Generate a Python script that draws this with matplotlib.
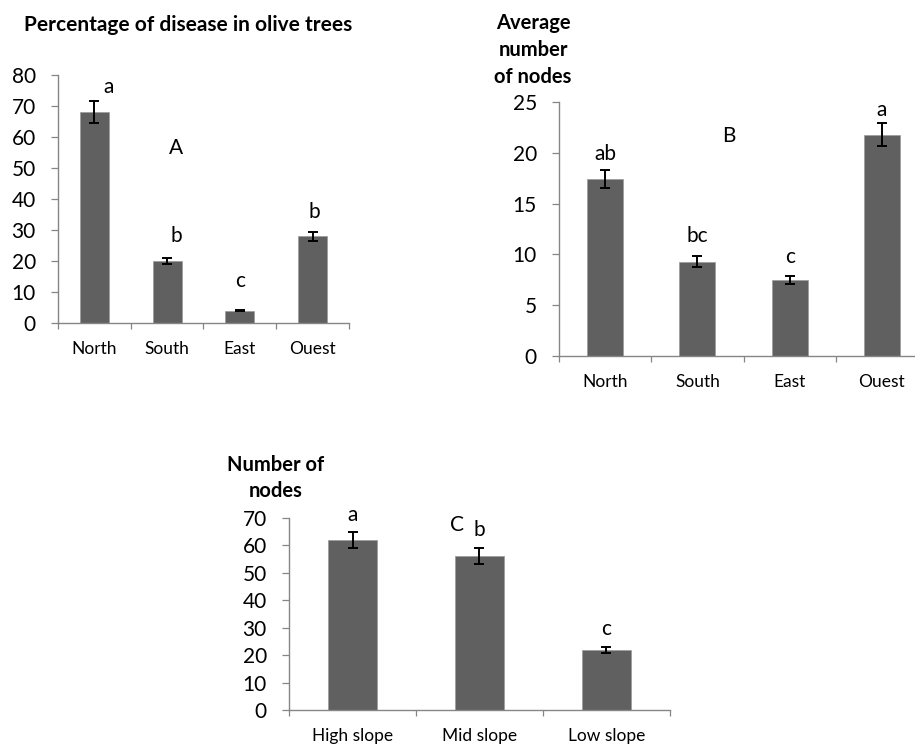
import numpy as np
import matplotlib
matplotlib.use("Agg")
import matplotlib.pyplot as plt
from matplotlib.ticker import FixedLocator, NullFormatter

plt.rcParams['font.family'] = ['Lato', 'DejaVu Sans']

# --- data ---
regions = ['North', 'South', 'East', 'Ouest']
disease_pct = [68, 20, 4, 28]
disease_err = [3.5, 1.1, 0.2, 1.5]
disease_letters = ['a', 'b', 'c', 'b']

avg_nodes = [17.4, 9.3, 7.5, 21.8]
avg_nodes_err = [0.9, 0.5, 0.4, 1.1]
avg_nodes_letters = ['ab', 'bc', 'c', 'a']

slopes = ['High slope', 'Mid slope', 'Low slope']
slope_nodes = [62, 56, 21.8]
slope_nodes_err = [3.0, 2.9, 1.1]
slope_letters = ['a', 'b', 'c']

W, H = 915, 745
BAR = '#606060'
GREY = '#868686'

fig = plt.figure(figsize=(W / 100, H / 100), dpi=100)


def px_axes(x0, y_top, x1, y_bot):
    # axes placed from pixel box
    return fig.add_axes([x0 / W, (H - y_bot) / H, (x1 - x0) / W, (y_bot - y_top) / H])


def style(ax, cats, ymax, ystep):
    x = np.arange(len(cats))
    ax.set_xlim(-0.5, len(cats) - 0.5)
    ax.set_ylim(0, ymax)
    ax.set_yticks(np.arange(0, ymax + 0.1, ystep))
    ax.set_xticks(x)
    ax.set_xticklabels(cats)
    ax.xaxis.set_minor_locator(FixedLocator(np.arange(-0.5, len(cats), 1.0)))
    ax.xaxis.set_minor_formatter(NullFormatter())
    for s in ['top', 'right']:
        ax.spines[s].set_visible(False)
    for s in ['left', 'bottom']:
        ax.spines[s].set_color(GREY)
        ax.spines[s].set_linewidth(1.0)
    ax.tick_params(axis='y', direction='out', length=5, width=0.9, color=GREY,
                   pad=11, labelsize=15)
    ax.tick_params(axis='x', which='major', length=0, pad=13, labelsize=12.5)
    ax.tick_params(axis='x', which='minor', direction='out', length=4,
                   width=0.9, color=GREY)
    return x


def draw(ax, x, vals, errs, width):
    ax.bar(x, vals, width=width, yerr=errs, color=BAR, edgecolor='#9a9a9a',
           linewidth=0.5, zorder=2,
           error_kw=dict(ecolor='black', elinewidth=1.4, capsize=3.5,
                         capthick=1.4, zorder=3))


# --- Panel A ---
axA = px_axes(58, 75, 349, 323)
xA = style(axA, regions, 80, 10)
draw(axA, xA, disease_pct, disease_err, 0.4)
for xi, yi, t in zip([0.19, 1.13, 2.0, 3.03], [74.3, 26.2, 11.5, 33.8], disease_letters):
    axA.text(xi, yi, t, ha='center', va='baseline', fontsize=15)
axA.text(1.12, 54.5, 'A', ha='center', va='baseline', fontsize=15)
fig.text(188 / W, 1 - 25 / H, 'Percentage of disease in olive trees',
         ha='center', va='center', fontsize=15, fontweight='bold')

# --- Panel B ---
axB = px_axes(559, 102, 928, 356)
xB = style(axB, regions, 25, 5)
draw(axB, xB, avg_nodes, avg_nodes_err, 0.39)
for xi, yi, t in zip([0, 1, 2, 3], [19.3, 11.2, 9.2, 23.6], avg_nodes_letters):
    axB.text(xi, yi, t, ha='center', va='baseline', fontsize=15)
axB.text(1.34, 21.1, 'B', ha='center', va='baseline', fontsize=15)
fig.text(533 / W, 1 - 83 / H, 'Average\nnumber\nof nodes', ha='center',
         va='baseline', fontsize=14.5, fontweight='bold', linespacing=1.45)

# --- Panel C ---
axC = px_axes(289, 518, 670, 710)
xC = style(axC, slopes, 70, 10)
draw(axC, xC, slope_nodes, slope_nodes_err, 0.39)
for xi, yi, t in zip([0, 1, 2], [69.0, 63.5, 27.4], slope_letters):
    axC.text(xi, yi, t, ha='center', va='baseline', fontsize=15)
axC.text(0.825, 65.1, 'C', ha='center', va='baseline', fontsize=15)
fig.text(276 / W, 1 - 497 / H, 'Number of\nnodes', ha='center',
         va='baseline', fontsize=14.5, fontweight='bold', linespacing=1.35)

fig.savefig('out.png', dpi=100)
